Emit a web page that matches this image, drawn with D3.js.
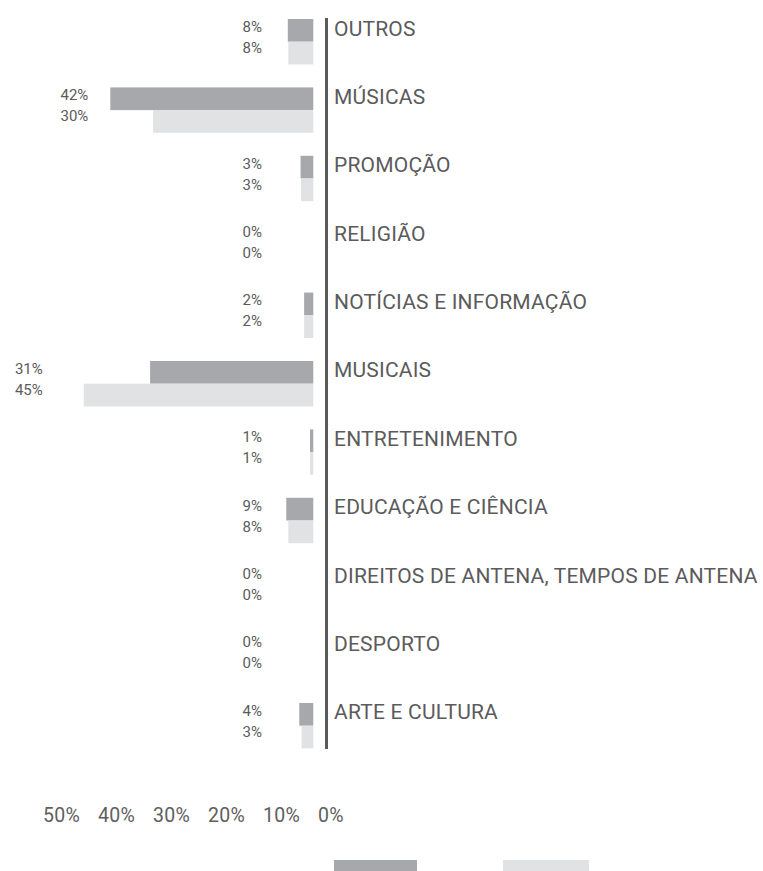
<!DOCTYPE html>
<html>
<head>
<meta charset="utf-8">
<script src="https://cdn.jsdelivr.net/npm/d3@7"></script>
<style>
  body { margin: 0; background: #fff; }
  svg { display: block; font-family: Roboto, "Noto Sans", sans-serif; }
</style>
</head>
<body>
<div id="chart"></div>
<script>
var categories = ["OUTROS", "MÚSICAS", "PROMOÇÃO", "RELIGIÃO", "NOTÍCIAS E INFORMAÇÃO",
    "MUSICAIS", "ENTRETENIMENTO", "EDUCAÇÃO E CIÊNCIA",
    "DIREITOS DE ANTENA, TEMPOS DE ANTENA", "DESPORTO", "ARTE E CULTURA"];

// percentages printed next to the bars
var labelsDark  = [8, 42, 3, 0, 2, 31, 1, 9, 0, 0, 4];
var labelsLight = [8, 30, 3, 0, 2, 45, 1, 8, 0, 0, 3];

// bar lengths (same % units)
var barsDark  = [5.0, 39.8, 2.5, 0, 1.8, 32.0, 0.65, 5.3, 0, 0, 2.75];
var barsLight = [4.9, 31.4, 2.4, 0, 1.8, 45.0, 0.65, 4.9, 0, 0, 2.3];

var ticks = [50, 40, 30, 20, 10, 0];

var w = 763;
var h = 871;
var dark = "#a7a8ab";
var light = "#e1e2e4";
var textColor = "#5b5b5b";

var svg = d3.select("#chart")
    .append("svg")
    .attr("width", w)
    .attr("height", h);

var xScale = d3.scaleLinear()
    .domain([0, 45])
    .range([313.3, 83.8]);

var yScale = d3.scaleBand()
    .domain(categories)
    .range([19, 748.4])
    .paddingInner(0.336);

var barH = yScale.bandwidth() / 2;

var rows = categories.map(function(c, i){
    return {cat: c, a: barsDark[i], b: barsLight[i], la: labelsDark[i], lb: labelsLight[i]};
});

var g = svg.selectAll("g.row")
    .data(rows)
    .enter()
    .append("g")
    .attr("class", "row")
    .attr("transform", function(d){ return "translate(0," + yScale(d.cat) + ")"; });

g.append("rect")
    .attr("x", function(d){ return xScale(d.a); })
    .attr("y", 0)
    .attr("width", function(d){ return xScale(0) - xScale(d.a); })
    .attr("height", barH)
    .style("fill", dark);

g.append("rect")
    .attr("x", function(d){ return xScale(d.b); })
    .attr("y", barH)
    .attr("width", function(d){ return xScale(0) - xScale(d.b); })
    .attr("height", barH)
    .style("fill", light);

// labels sit left of the longest bar, wider gap when the bar is very long
var labelX = function(d){
    var m = Math.min(xScale(d.a), xScale(d.b), 284);
    return m - (m < 100 ? 41 : 22);
};

g.append("text")
    .attr("x", labelX)
    .attr("y", 12.9)
    .attr("text-anchor", "end")
    .style("font-size", "15px")
    .style("fill", textColor)
    .text(function(d){ return d.la + "%"; });

g.append("text")
    .attr("x", labelX)
    .attr("y", barH + 11.2)
    .attr("text-anchor", "end")
    .style("font-size", "15px")
    .style("fill", textColor)
    .text(function(d){ return d.lb + "%"; });

g.append("text")
    .attr("x", 334)
    .attr("y", 16.5)
    .style("font-size", "21px")
    .style("letter-spacing", "0.2px")
    .style("fill", textColor)
    .text(function(d){ return d.cat; });

// vertical divider
svg.append("line")
    .attr("x1", xScale(0) + 13.2)
    .attr("x2", xScale(0) + 13.2)
    .attr("y1", 18)
    .attr("y2", 749)
    .style("stroke", "#5a5a5a")
    .style("stroke-width", 3);

// bottom scale labels
var tickScale = d3.scaleLinear()
    .domain([50, 0])
    .range([43, 318]);

svg.selectAll("text.tick")
    .data(ticks)
    .enter()
    .append("text")
    .attr("class", "tick")
    .attr("x", function(d){ return tickScale(d); })
    .attr("y", 822)
    .style("font-size", "19.5px")
    .style("letter-spacing", "0.3px")
    .style("fill", "#5e5e5e")
    .text(function(d){ return d + "%"; });

// legend swatches
var legend = [{c: dark, x: 334, w: 83}, {c: light, x: 503, w: 86}];
svg.selectAll("rect.legend")
    .data(legend)
    .enter()
    .append("rect")
    .attr("class", "legend")
    .attr("x", function(d){ return d.x; })
    .attr("y", 860)
    .attr("width", function(d){ return d.w; })
    .attr("height", 14)
    .style("fill", function(d){ return d.c; });
</script>
</body>
</html>
